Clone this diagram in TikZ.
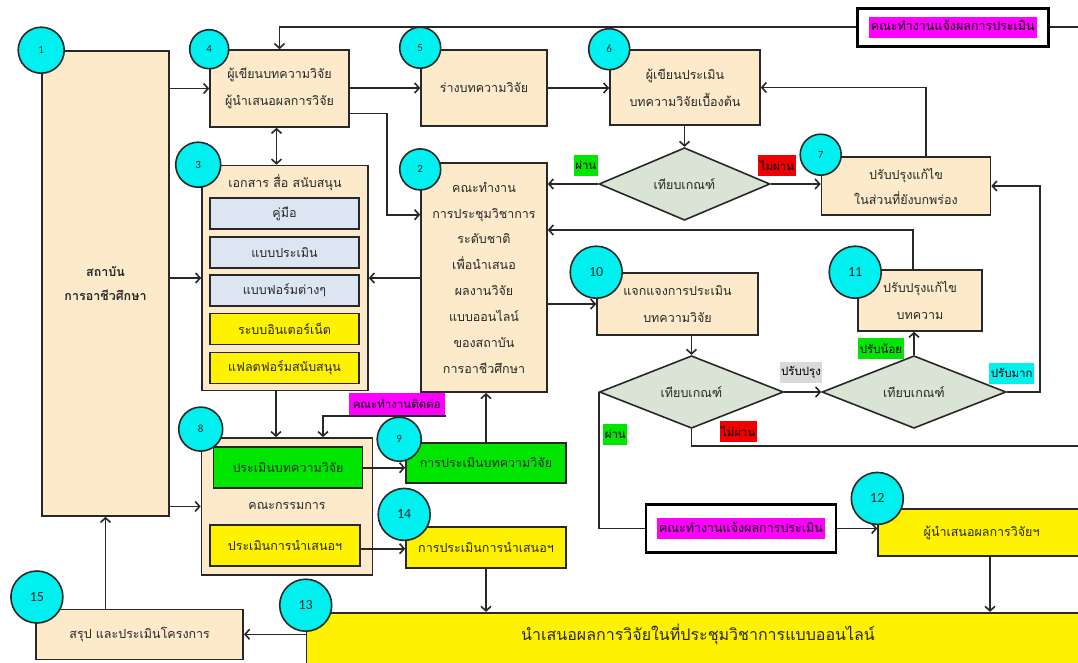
\documentclass[tikz,border=0pt]{standalone}
\usepackage{fontspec}
\setmainfont{Loma}[Script=Thai]
\newfontfamily\strongfont{Loma}[Script=Thai, BoldFont={* Bold}]
\newfontfamily\numfont{Carlito}
\usetikzlibrary{shapes,arrows.meta,positioning}

\definecolor{cream}{RGB}{252,234,202}
\definecolor{paleblue}{RGB}{220,230,242}
\definecolor{sage}{RGB}{217,228,212}
\definecolor{hlgreen}{RGB}{0,230,0}
\definecolor{hlmag}{RGB}{255,0,255}
\definecolor{hlred}{RGB}{240,0,0}
\definecolor{hlgrey}{RGB}{217,217,217}
\definecolor{hlcyan}{RGB}{0,240,240}
\definecolor{edge}{RGB}{40,40,40}

\newcommand{\flag}[1]{{\setlength{\fboxsep}{2pt}\colorbox{hlmag}{\rule[-5pt]{0pt}{17pt}#1}}}

\tikzset{
  box/.style={draw=edge, line width=1.6pt, fill=cream, inner sep=0pt, align=center},
  sub/.style={box, fill=#1, minimum width=149pt, minimum height=31pt},
  crit/.style={diamond, draw=edge, line width=1.6pt, fill=sage, inner sep=0pt},
  num/.style={circle, draw=edge, line width=1.6pt, fill=hlcyan, minimum size=41pt,
              inner sep=0pt, font=\numfont\fontsize{11}{11}\selectfont},
  numtwo/.style={num, minimum size=52pt, font=\numfont\fontsize{14}{14}\selectfont},
  tag/.style={fill=#1, inner xsep=1.5pt, inner ysep=0pt, minimum height=21pt,
              text=black, font=\fontsize{11.5}{12}\selectfont},
  notice/.style={draw=black, line width=2.6pt, fill=white, inner sep=0pt, text=black}
}

\begin{document}
\begin{tikzpicture}[x=1pt, y=-1pt, >={Straight Barb[length=4.5pt,width=10pt]},
                    line width=1.6pt, color=edge, font=\fontsize{12.5}{26.5}\selectfont]
\useasboundingbox (0,0) rectangle (1078,662);
\clip (0,0) rectangle (1078,662);
\fill[white] (0,0) rectangle (1078,662);

% boxes
\node[box, minimum width=127pt, minimum height=465pt,
      font=\strongfont\bfseries\fontsize{12.5}{24.3}\selectfont] (b1) at (105.5,283.5) {สถาบัน\\การอาชีวศึกษา};
\node[box, minimum width=139pt, minimum height=77pt] (b4) at (279.5,88.5) {ผู้เขียนบทความวิจัย\\ผู้นำเสนอผลการวิจัย};
\node[box, minimum width=126pt, minimum height=76pt] (b5) at (484,88) {ร่างบทความวิจัย};
\node[box, minimum width=150pt, minimum height=75pt] (b6) at (685,87.5) {ผู้เขียนประเมิน\\บทความวิจัยเบื้องต้น};

\node[box, minimum width=166pt, minimum height=225pt] (b3) at (285,278) {};
\node (b3t) at ([yshift=-18pt]b3.north) {เอกสาร สื่อ สนับสนุน};
\node[sub=paleblue] (s1) at (284.5,213.5) {คู่มือ};
\node[sub=paleblue] (s2) at (284.5,252.5) {แบบประเมิน};
\node[sub=paleblue] (s3) at (284.5,290.5) {แบบฟอร์มต่างๆ};
\node[sub=yellow] (s4) at (284.5,329) {ระบบอินเตอร์เน็ต};
\node[sub=yellow] (s5) at (284.5,368) {แฟลตฟอร์มสนับสนุน};

\node[box, minimum width=126pt, minimum height=229pt,
      font=\fontsize{12.5}{25.9}\selectfont] (b2) at (484,277.7)
      {คณะทำงาน\\การประชุมวิชาการ\\ระดับชาติ\\เพื่อนำเสนอ\\ผลงานวิจัย\\แบบออนไลน์\\ของสถาบัน\\การอาชีวศึกษา};

\node[crit, minimum width=171pt, minimum height=62pt] (d1) at (684.5,184) {เทียบเกณฑ์};
\node[box, minimum width=169pt, minimum height=58pt,
      font=\fontsize{12.5}{25}\selectfont] (b7) at (906,186) {ปรับปรุงแก้ไข\\ในส่วนที่ยังบกพร่อง};
\node[box, minimum width=161pt, minimum height=62pt] (b10) at (677.5,304) {แจกแจงการประเมิน\\บทความวิจัย};
\node[box, minimum width=124pt, minimum height=61pt] (b11) at (920,300.5) {ปรับปรุงแก้ไข\\บทความ};
\node[crit, minimum width=184pt, minimum height=61pt] (d2) at (691.5,392) {เทียบเกณฑ์};
\node[crit, minimum width=184pt, minimum height=62pt] (d3) at (914,392) {เทียบเกณฑ์};

\node[box, minimum width=171pt, minimum height=137pt] (b8) at (287,506.4) {คณะกรรมการ};
\node[box, fill=hlgreen, minimum width=149pt, minimum height=41pt] (g8) at (288,467.7) {ประเมินบทความวิจัย};
\node[box, fill=yellow, minimum width=150pt, minimum height=41pt] (y8) at (285,545.7) {ประเมินการนำเสนอฯ};
\node[box, fill=hlgreen, minimum width=160pt, minimum height=40pt] (b9) at (486,462.7) {การประเมินบทความวิจัย};
\node[box, fill=yellow, minimum width=160pt, minimum height=41pt] (b14) at (486,547.7) {การประเมินการนำเสนอฯ};

\node[box, fill=yellow, minimum width=783pt, minimum height=62pt, text depth=23pt,
      font=\fontsize{16}{16}\selectfont] (b13) at (698,643.7) {นำเสนอผลการวิจัยในที่ประชุมวิชาการแบบออนไลน์};
\node[box, fill=yellow, minimum width=207pt, minimum height=47pt] (b12) at (981.6,532.7) {ผู้นำเสนอผลการวิจัยฯ};
\node[box, minimum width=207pt, minimum height=50pt] (b15) at (139.7,634.3) {สรุป และประเมินโครงการ};

\node[notice, minimum width=191pt, minimum height=38pt] (n1) at (952.8,27.2)
      {\flag{คณะทำงานแจ้งผลการประเมิน}};
\node[notice, minimum width=190pt, minimum height=48pt] (n2) at (741,528.5)
      {\flag{คณะทำงานแจ้งผลการประเมิน}};
\node[tag=hlmag, minimum width=96pt, minimum height=22pt] (tt) at (396.7,404) {คณะทำงานติดต่อ};

\coordinate (rtop) at (1090,27.2);
\coordinate (rmid) at (1090,446);

% connectors
\draw[->] (n1.west) -| (b4.north);
\draw (n1.east) -- (rtop);
\draw[->] (b1.east |- b4.west) -- (b4.west);
\draw[->] (b4.east |- b5.west) -- (b5.west);
\draw[->] (b5.east) -- (b6.west |- b5.east);
\draw[->] (b6.south -| d1.north) -- (d1.north);
\draw[->] (d1.west) -- (d1.west -| b2.east);
\draw[->] (d1.east) -- (d1.east -| b7.west);
\draw[->] ([xshift=20pt]b7.north) |- (b6.east);
\draw[<->] ([xshift=-3pt]b4.south) -- ([xshift=-3pt]b4.south |- b3.north);
\draw[->] ([yshift=-25pt]b4.east) -- ++(37,0) |- ([yshift=63pt]b2.west);
\draw[->] (b1.east |- b3.west) -- (b3.west);
\draw[->] (b2.west |- b3.east) -- (b3.east);
\draw[->] (b2.east |- b10.west) -- (b10.west);
\draw[->] ([xshift=-7pt]b11.north) |- ([yshift=47.7pt]b2.east);
\draw[->] (d2.north |- b10.south) -- (d2.north);
\draw[->] (d2.east) -- (d3.west);
\draw[->] (d3.north) -- (d3.north |- b11.south);
\draw[->] (d3.east) -- ++(33,0) |- (b7.east);
\draw (d2.west) |- (n2.west);
\draw (d2.south) |- (rmid);
\draw[->] (n2.east) -- (n2.east -| b12.west);
\draw[->] ([xshift=8.4pt]b12.south) -- ([xshift=8.4pt]b12.south |- b13.north);
\draw[->] (b14.south) -- (b14.south |- b13.north);
\draw[->] (b13.west |- b15.east) -- (b15.east);
\draw[->] (b1.south |- b15.north) -- (b1.south);
\draw[->] (b1.east |- b8.west) -- (b8.west);
\draw[->] ([xshift=-9pt]b3.south) -- ([xshift=-9pt]b3.south |- b8.north);
\draw[->] (tt.south east) -| ([xshift=36pt]b8.north);
\draw[->] (g8.east) -- (g8.east -| b9.west);
\draw[->] ([yshift=-3pt]y8.east) -- ([yshift=-3pt]y8.east -| b14.west);
\draw[->] (b9.north) -- (b9.north |- b2.south);

% numbers
\node[num, minimum size=46pt] (c1) at (b1.north west) {1};
\node[num, minimum size=39pt] (c4) at (b4.north west) {4};
\node[num] (c5) at ([yshift=1.5pt]b5.north west) {5};
\node[num] (c6) at (b6.north west) {6};
\node[num, minimum size=45pt] (c3) at ([xshift=-3pt]b3.north west) {3};
\node[num] (c2) at ([yshift=-7pt]b2.north west) {2};
\node[num] (c7) at ([yshift=1.5pt]b7.north west) {7};
\node[numtwo] (c10) at (b10.north west) {10};
\node[numtwo] (c11) at ([xshift=-2pt,yshift=-3pt]b11.north west) {11};
\node[num, minimum size=44pt] (c8) at ([yshift=8pt]b8.north west) {8};
\node[num, minimum size=44pt] (c9) at ([xshift=-6pt,yshift=2.7pt]b9.north west) {9};
\node[numtwo] (c14) at ([xshift=-1pt,yshift=12pt]b14.north west) {14};
\node[numtwo] (c12) at ([yshift=10pt]b12.north west) {12};
\node[numtwo] (c13) at ([yshift=6.7pt]b13.north west) {13};
\node[numtwo] (c15) at ([xshift=1.5pt,yshift=11.5pt]b15.north west) {15};

% decisions
\node[tag=hlgreen] (p1) at (585.8,165) {ผ่าน};
\node[tag=hlred] (f1) at (777,165) {ไม่ผ่าน};
\node[tag=hlgrey] (r1) at (801,372.7) {ปรับปรุง};
\node[tag=hlgreen] (r2) at (881,348.5) {ปรับน้อย};
\node[tag=hlcyan] (r3) at (1011.7,373) {ปรับมาก};
\node[tag=hlgreen] (p2) at (615.3,434.3) {ผ่าน};
\node[tag=hlred] (f2) at (738.3,431.5) {ไม่ผ่าน};
\end{tikzpicture}
\end{document}
